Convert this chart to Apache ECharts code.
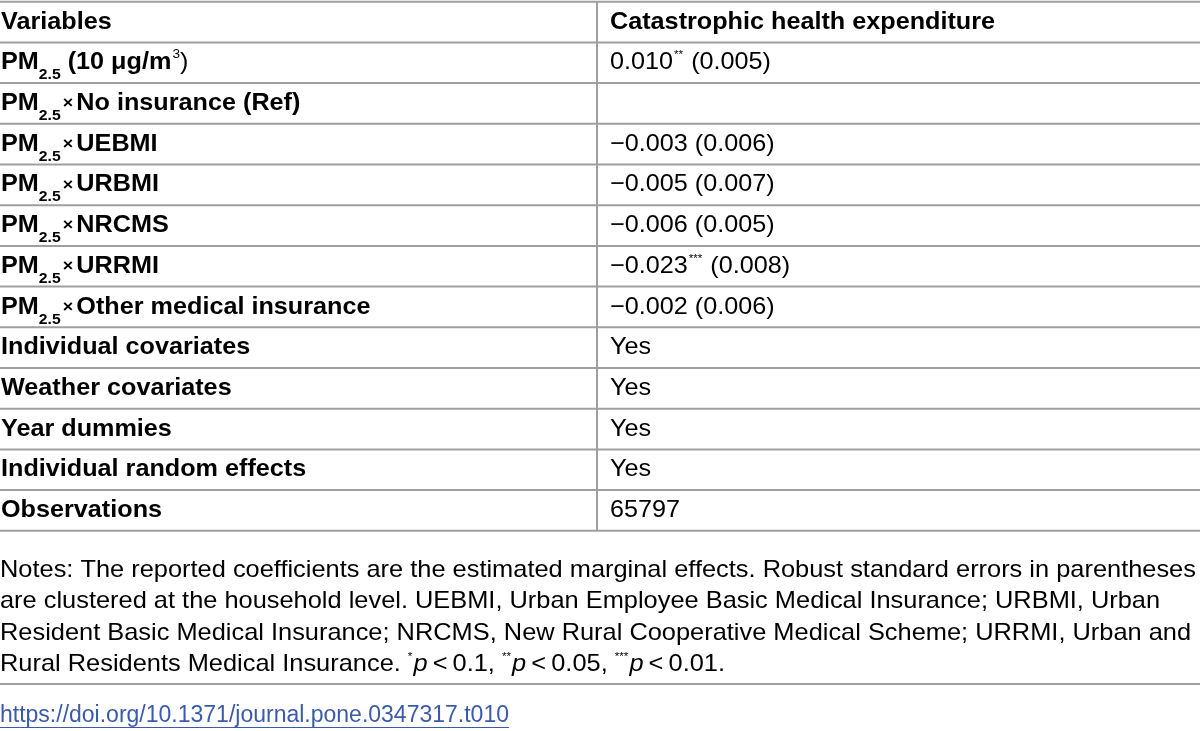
<!DOCTYPE html>
<html lang="en">
<head>
<meta charset="UTF-8">
<title>Table 10</title>
<style>
  html, body { margin: 0; padding: 0; background: #fff; }
  #chart { width: 1200px; height: 731px; }
</style>
</head>
<body>
<div id="chart"></div>
<script src="https://cdn.jsdelivr.net/npm/echarts@6/dist/echarts.min.js"></script>
<script>
// table content
var headers = ['Variables', 'Catastrophic health expenditure'];
var interactionTerms = ['No insurance (Ref)', 'UEBMI', 'URBMI', 'NRCMS', 'URRMI', 'Other medical insurance'];
var coefficients = ['0.010', '', '\u22120.003', '\u22120.005', '\u22120.006', '\u22120.023', '\u22120.002'];
var stars = ['**', '', '', '', '', '***', ''];
var stdErrors = ['0.005', '', '0.006', '0.007', '0.005', '0.008', '0.006'];
var controlRows = ['Individual covariates', 'Weather covariates', 'Year dummies', 'Individual random effects', 'Observations'];
var controlValues = ['Yes', 'Yes', 'Yes', 'Yes', '65797'];
var notesLines = [
    'Notes: The reported coefficients are the estimated marginal effects. Robust standard errors in parentheses',
    'are clustered at the household level. UEBMI, Urban Employee Basic Medical Insurance; URBMI, Urban',
    'Resident Basic Medical Insurance; NRCMS, New Rural Cooperative Medical Scheme; URRMI, Urban and',
    'Rural Residents Medical Insurance. '
];
var pLevels = [['*', '0.1'], ['**', '0.05'], ['***', '0.01']];
var doiText = 'https://doi.org/10.1371/journal.pone.0347317.t010';

var FONT = '"Liberation Sans", Arial, Helvetica, sans-serif';
var W = 1200;
var top0 = 1.7;
var rowH = 40.7;
var colX = 597;
var lineColor = '#9f9f9f';
var textColor = '#111';
var stretch = 1.05;   // source image is slightly wider than plain Arial

var rich = {
    b: { fontFamily: FONT, fontWeight: 'bold', fontSize: 24, lineHeight: 40, color: textColor, verticalAlign: 'middle' },
    sub: { fontFamily: FONT, fontWeight: 'bold', fontSize: 15, lineHeight: 13, color: textColor, verticalAlign: 'bottom' },
    x: { fontFamily: FONT, fontWeight: 'bold', fontSize: 17, lineHeight: 40, color: textColor, verticalAlign: 'middle', padding: [0, 3, 0, 2] },
    sup: { fontFamily: FONT, fontSize: 13, color: textColor, verticalAlign: 'top', padding: [5, 0, 0, 1] },
    rp: { fontFamily: FONT, fontSize: 24, lineHeight: 40, color: textColor, verticalAlign: 'middle' },
    r: { fontFamily: FONT, fontSize: 24, lineHeight: 40, color: textColor, verticalAlign: 'middle' },
    st: { fontFamily: FONT, fontSize: 11, color: '#888', verticalAlign: 'top', padding: [7, 1, 0, 1] },
    n: { fontFamily: FONT, fontSize: 24, lineHeight: 30, color: '#1a1a1a', verticalAlign: 'middle' },
    ni: { fontFamily: FONT, fontStyle: 'italic', fontSize: 24, lineHeight: 30, color: '#1a1a1a', verticalAlign: 'middle' },
    nst: { fontFamily: FONT, fontSize: 11, color: '#888', verticalAlign: 'top', padding: [2, 1, 0, 0] }
};

var pmLabel = '{b|PM}{sub|2.5}';
var leftLabels = [pmLabel + '{b| (10 \u03bcg/m}{sup|3}{rp|)}'];
interactionTerms.forEach(function (t) {
    leftLabels.push(pmLabel + '{x|\u00d7}{b|' + t + '}');
});
controlRows.forEach(function (t) { leftLabels.push('{b|' + t + '}'); });

var rightLabels = [];
coefficients.forEach(function (c, i) {
    if (!c) { rightLabels.push(''); return; }
    var s = '{r|' + c + '}';
    if (stars[i]) s += '{st|' + stars[i] + '}';
    s += '{r| (' + stdErrors[i] + ')}';
    rightLabels.push(s);
});
controlValues.forEach(function (v) { rightLabels.push('{r|' + v + '}'); });

var elements = [];
var nRows = leftLabels.length + 1;

function hline(y) {
    elements.push({ type: 'line', shape: { x1: 0, y1: y, x2: W, y2: y }, style: { stroke: lineColor, lineWidth: 2 } });
}
for (var i = 0; i <= nRows; i++) hline(top0 + i * rowH);
elements.push({ type: 'line', shape: { x1: colX, y1: top0, x2: colX, y2: top0 + nRows * rowH }, style: { stroke: lineColor, lineWidth: 2 } });

function cellText(x, row, str) {
    elements.push({
        type: 'text', x: x, y: top0 + (row + 0.5) * rowH, scaleX: stretch,
        style: { text: str, rich: rich, verticalAlign: 'middle', align: 'left', fontFamily: FONT }
    });
}
cellText(1, 0, '{b|' + headers[0] + '}');
cellText(610, 0, '{b|' + headers[1] + '}');
leftLabels.forEach(function (s, i) { cellText(1, i + 1, s); });
rightLabels.forEach(function (s, i) { if (s) cellText(610, i + 1, s); });

// notes
var notesTop = 570;
var notesStep = 31.6;
var lastLine = '{n|' + notesLines[3] + '}';
pLevels.forEach(function (p, i) {
    lastLine += '{nst|' + p[0] + '}{ni|p}{n|\u2009<\u2009' + p[1] + (i < pLevels.length - 1 ? ', ' : '.') + '}';
});
notesLines.forEach(function (line, i) {
    elements.push({
        type: 'text', x: 0, y: notesTop + i * notesStep, scaleX: 1.058,
        style: { text: i === 3 ? lastLine : '{n|' + line + '}', rich: rich, verticalAlign: 'middle', fontFamily: FONT }
    });
});
hline(684);

// doi link with underline
var ctx = document.createElement('canvas').getContext('2d');
ctx.font = '23px ' + FONT;
var doiW = ctx.measureText(doiText).width;
elements.push({
    type: 'text', x: 0, y: 716,
    style: { text: doiText, fill: '#3b5ba9', fontFamily: FONT, fontSize: 23, verticalAlign: 'middle' }
});
elements.push({ type: 'line', shape: { x1: 0, y1: 727.5, x2: doiW, y2: 727.5 }, style: { stroke: '#3b5ba9', lineWidth: 1.2 } });

var chart = echarts.init(document.getElementById('chart'));
chart.setOption({
    backgroundColor: '#fff',
    animation: false,
    graphic: { elements: elements }
});
</script>
</body>
</html>
